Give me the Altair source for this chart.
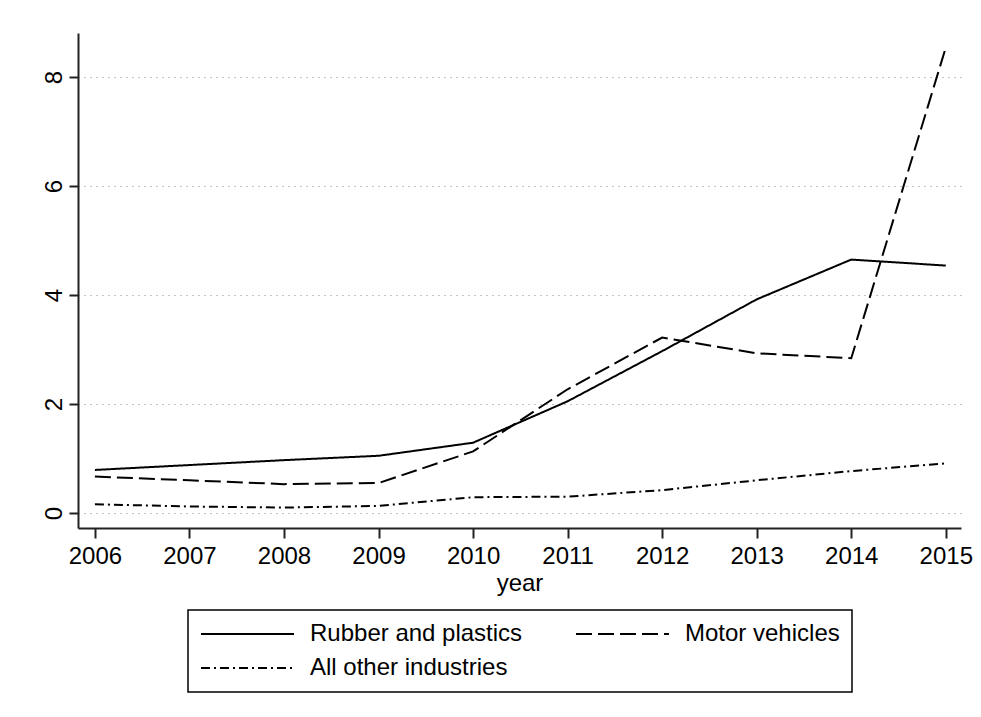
import altair as alt
import pandas as pd

years = [2006, 2007, 2008, 2009, 2010, 2011, 2012, 2013, 2014, 2015]
rubber = [0.79, 0.88, 0.97, 1.05, 1.29, 2.05, 2.97, 3.92, 4.65, 4.54]
motor = [0.67, 0.60, 0.53, 0.55, 1.13, 2.27, 3.22, 2.93, 2.84, 8.54]
other = [0.16, 0.12, 0.10, 0.13, 0.29, 0.30, 0.42, 0.60, 0.77, 0.91]

series_names = ["Rubber and plastics", "Motor vehicles", "All other industries"]
y_ticks = [0, 2, 4, 6, 8]

rows = []
for name, vals in zip(series_names, [rubber, motor, other]):
    for yr, v in zip(years, vals):
        rows.append({"year": yr, "value": v, "series": name})
df = pd.DataFrame(rows)

FONT = "Liberation Sans"
FS = 24

chart = (
    alt.Chart(df)
    .mark_line(color="black", strokeWidth=2, strokeCap="butt")
    .encode(
        x=alt.X(
            "year:Q",
            scale=alt.Scale(domain=[2005.821, 2015.161], nice=False, zero=False),
            axis=alt.Axis(
                values=years,
                format="d",
                title="year",
                grid=False,
                tickSize=10,
                tickWidth=2,
                tickColor="#222",
                domainColor="#222",
                domainWidth=2,
                labelFont=FONT,
                labelFontSize=FS,
                labelColor="black",
                labelPadding=6,
                labelFlush=False,
                titleFont=FONT,
                titleFontSize=FS,
                titleFontWeight="normal",
                titleColor="black",
                titlePadding=3,
            ),
        ),
        y=alt.Y(
            "value:Q",
            scale=alt.Scale(domain=[-0.275, 8.807], nice=False, zero=False),
            axis=alt.Axis(
                values=y_ticks,
                title=None,
                grid=True,
                gridDash=[1, 5],
                gridColor="#888",
                gridWidth=1,
                tickSize=9,
                tickWidth=2,
                tickColor="#222",
                domainColor="#222",
                domainWidth=2,
                labelFont=FONT,
                labelFontSize=FS,
                labelColor="black",
                labelAngle=270,
                labelAlign="center",
                labelBaseline="alphabetic",
                labelPadding=8,
                labelFlush=False,
            ),
        ),
        strokeDash=alt.StrokeDash(
            "series:N",
            sort=series_names,
            scale=alt.Scale(domain=series_names, range=[[1, 0], [16, 6], [9, 4, 2, 4]]),
            legend=alt.Legend(
                title=None,
                orient="none",
                direction="horizontal",
                legendX=110,
                legendY=577,
                columns=2,
                symbolType="stroke",
                symbolSize=8649,
                symbolStrokeWidth=2,
                symbolStrokeColor="black",
                clipHeight=24,
                rowPadding=10,
                columnPadding=52,
                labelOffset=15,
                labelFont=FONT,
                labelFontSize=FS,
                labelColor="black",
                labelLimit=400,
                padding=12,
                strokeColor="black",
                fillColor="white",
            ),
        ),
    )
    .properties(
        width=883,
        height=495,
        padding={"left": 70, "top": 25, "right": 12, "bottom": 180},
        autosize=alt.AutoSizeParams(type="none"),
    )
    .configure_view(stroke="transparent")
    .configure_legend(strokeWidth=1.5)
)

chart.save("out.html", embed_options={"renderer": "svg", "actions": False})
